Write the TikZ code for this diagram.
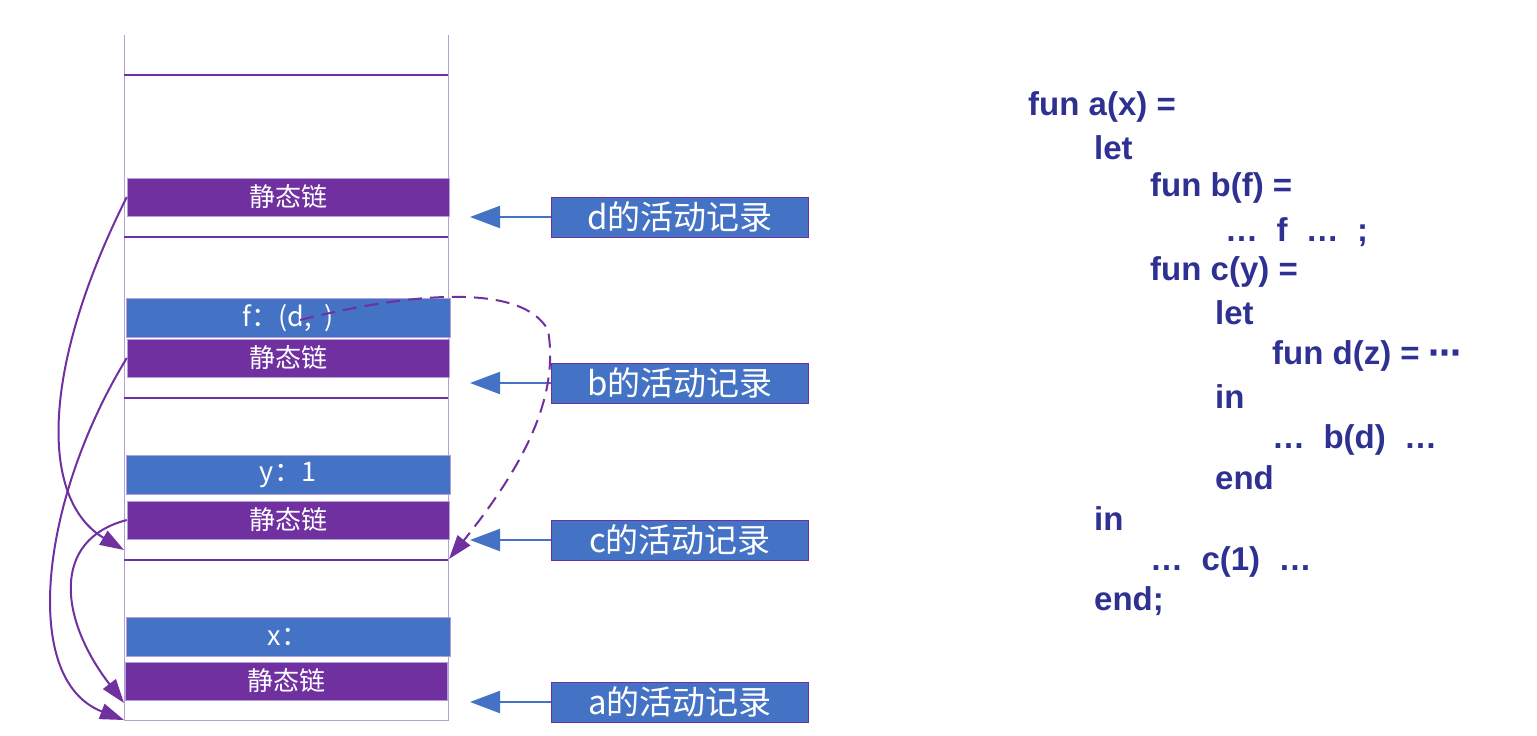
\documentclass[tikz,border=0pt]{standalone}
\usepackage{fontspec}
\setmainfont{Noto Sans CJK SC}
\newfontfamily\codefont{Liberation Sans}
\newfontfamily\dejavu{DejaVu Sans}
\usetikzlibrary{arrows.meta}
\definecolor{pur}{HTML}{7030A0}
\definecolor{blu}{HTML}{4472C4}
\definecolor{lav}{HTML}{B4A0D8}
\definecolor{code}{HTML}{2E3192}
\begin{document}
\begin{tikzpicture}[x=1pt,y=-1pt,
  sl/.style={fill=pur,draw=lav,thin,minimum width=322pt,minimum height=38pt,inner sep=0pt,text=white,font=\fontsize{26}{26}\selectfont},
  vb/.style={fill=blu,draw=lav,thin,minimum width=324pt,minimum height=39pt,inner sep=0pt,text=white,font=\fontsize{27}{27}\selectfont},
  lab/.style={fill=blu,draw=pur,thin,minimum width=257pt,minimum height=40pt,inner sep=0pt,text=white,font=\fontsize{33}{33}\selectfont},
  hl/.style={pur,line width=2pt},
  ptr/.style={blu,line width=2.2pt,-{Triangle[length=30pt,width=22pt]}},
  lk/.style={pur,line width=2pt,-{Triangle[length=24pt,width=16pt]}},
  cl/.style={anchor=west,text=code,font=\codefont\bfseries\fontsize{33}{33}\selectfont,inner sep=0pt}]
\useasboundingbox (0,0) rectangle (1537,736);
\draw[lav] (124,35) -- (124,720) -- (448,720) -- (448,35);
\draw[hl] (124,75) -- (448,75);
\draw[hl] (124,237) -- (448,237);
\draw[hl] (124,398) -- (448,398);
\draw[hl] (124,560) -- (448,560);
\node[sl] (s1) at (288,197) {静态链};
\node[vb] (f) at (288,318) {f：(d,\ \ )};
\node[sl] (s2) at (288,358) {静态链};
\node[vb] (y) at (288,475) {y：1};
\node[sl] (s3) at (288,520) {静态链};
\node[vb] (x) at (288,637) {x：};
\node[sl] (s4) at (286,681) {静态链};
\node[lab] (ld) at (680,217) {d的活动记录};
\node[lab] (lb) at (680,383) {b的活动记录};
\node[lab] (lc) at (680,540) {c的活动记录};
\node[lab] (la) at (680,702) {a的活动记录};
\coordinate (ad) at (470,217);
\coordinate (ab) at (470,383);
\coordinate (ac) at (470,540);
\coordinate (aa) at (470,702);
\draw[ptr] (ld.west) -- (ad);
\draw[ptr] (lb.west) -- (ab);
\draw[ptr] (lc.west) -- (ac);
\draw[ptr] (la.west) -- (aa);
\coordinate (e1) at (124,550);
\coordinate (e2) at (124,703);
\coordinate (e3) at (124,720);
\coordinate (e4) at (449,559);
\draw[lk] (s1.west) .. controls (40,370) and (40,500) .. (e1);
\draw[lk] (s3.west) .. controls (50,540) and (60,620) .. (e2);
\draw[lk] (s2.west) .. controls (40,500) and (20,680) .. (e3);
\draw[pur,line width=2pt,dash pattern=on 14pt off 8pt,-{Triangle[length=24pt,width=16pt]}] (300,320) .. controls (400,295) and (520,280) .. (548,330) .. controls (560,400) and (520,470) .. (e4);
\node[cl] (c1) at (1028,107) {fun a(x) =};
\node[cl] (c2) at (1094,148) {let};
\node[cl] (c3) at (1150,188) {fun b(f) =};
\node[cl] (c4) at (1225,232) {…\ \ f\ \ …\ \ ;};
\node[cl] (c5) at (1150,272) {fun c(y) =};
\node[cl] (c6) at (1215,313) {let};
\node[cl] (c7) at (1272,356) {fun d(z) = {\dejavu ⋯}};
\node[cl] (c8) at (1215,397) {in};
\node[cl] (c9) at (1272,440) {…\ \ b(d)\ \ …};
\node[cl] (c10) at (1215,478) {end};
\node[cl] (c11) at (1094,519) {in};
\node[cl] (c12) at (1150,562) {…\ \ c(1)\ \ …};
\node[cl] (c13) at (1094,601) {end;};
\end{tikzpicture}
\end{document}
